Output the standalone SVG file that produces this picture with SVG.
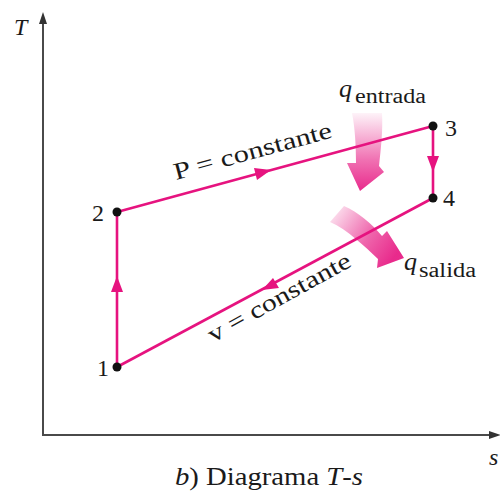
<svg xmlns="http://www.w3.org/2000/svg" width="500" height="491" viewBox="0 0 500 491">
<defs>
<style>
.ax{stroke:#4a4a4a;stroke-width:2;fill:none}
.ln{stroke:#e6137f;stroke-width:2.6;fill:none}
.t{font-family:"Liberation Serif","Times New Roman","DejaVu Serif",serif;fill:#1a1a1a}
.n{font-size:24px}
.lb{font-size:24px}
.dot{fill:#111}
.ah{fill:#e6137f}
</style>
<linearGradient id="g1" x1="0" y1="0" x2="0" y2="1">
<stop offset="0" stop-color="#e6137f" stop-opacity="0.05"/>
<stop offset="0.6" stop-color="#e6137f" stop-opacity="0.6"/>
<stop offset="1" stop-color="#e6137f" stop-opacity="0.9"/>
</linearGradient>
<linearGradient id="g2" x1="0" y1="0" x2="1" y2="0.6">
<stop offset="0" stop-color="#e6137f" stop-opacity="0.05"/>
<stop offset="0.6" stop-color="#e6137f" stop-opacity="0.65"/>
<stop offset="1" stop-color="#e6137f" stop-opacity="0.9"/>
</linearGradient>
</defs>
<rect width="500" height="491" fill="#fff"/>
<g id="axes">
<path class="ax" d="M43,20 V435 H496"/>
<path d="M43,12 L39,24 L47,24 Z" fill="#333"/>
<path d="M501,435 L489,431 L489,439 Z" fill="#333"/>
<text class="t" x="14" y="35" font-size="24" font-style="italic">T</text>
<text class="t" x="489" y="465" font-size="24" font-style="italic">s</text>
</g>
<g id="connectors">
<path class="ln" d="M117,367 V212"/>
<path class="ln" d="M117,212 L433,126"/>
<path class="ln" d="M433,126 V198"/>
<path class="ln" d="M433,198 L117,367"/>
<path class="ah" d="M117,276 L111,292 L123,292 Z"/>
<path class="ah" d="M433,172 L427,156 L439,156 Z"/>
<path class="ah" d="M271,170 L254,168 L257,180 Z"/>
<path class="ah" d="M262,290 L279,288 L273,278 Z"/>
</g>
<g id="q-entrada">
<path fill="url(#g1)" d="M352,113 L382,113 C383,130 381,148 379,166 L384,172 L360,191 L347,163 L356,163 C356,146 355,128 352,113 Z"/>
<text class="t" x="339" y="97" font-size="26" font-style="italic">q</text>
<text class="t" x="355" y="103" font-size="20" textLength="71" lengthAdjust="spacingAndGlyphs">entrada</text>
</g>
<g id="q-salida">
<path fill="url(#g2)" d="M344,206 C358,212 372,224 382,236 L387,231 L404,258 L377,268 L378,259 C364,246 348,230 330,222 Z"/>
<text class="t" x="404" y="270" font-size="26" font-style="italic">q</text>
<text class="t" x="419" y="277" font-size="20" textLength="57" lengthAdjust="spacingAndGlyphs">salida</text>
</g>
<g id="n1"><circle class="dot" cx="117" cy="367" r="4.5"/><text class="t n" x="97" y="376">1</text></g>
<g id="n2"><circle class="dot" cx="117" cy="212" r="4.5"/><text class="t n" x="92" y="221">2</text></g>
<g id="n3"><circle class="dot" cx="433" cy="126" r="4.5"/><text class="t n" x="445" y="136">3</text></g>
<g id="n4"><circle class="dot" cx="433" cy="198" r="4.5"/><text class="t n" x="443" y="206">4</text></g>
<text class="t lb" transform="translate(176,180) rotate(-15.2)" textLength="163" lengthAdjust="spacingAndGlyphs">P = constante</text>
<text class="t lb" transform="translate(213,343) rotate(-29)" textLength="160" lengthAdjust="spacingAndGlyphs">v = constante</text>
<text class="t" x="175" y="485" font-size="25" textLength="188" lengthAdjust="spacingAndGlyphs"><tspan font-style="italic">b</tspan>) Diagrama <tspan font-style="italic">T</tspan>-<tspan font-style="italic">s</tspan></text>
</svg>
